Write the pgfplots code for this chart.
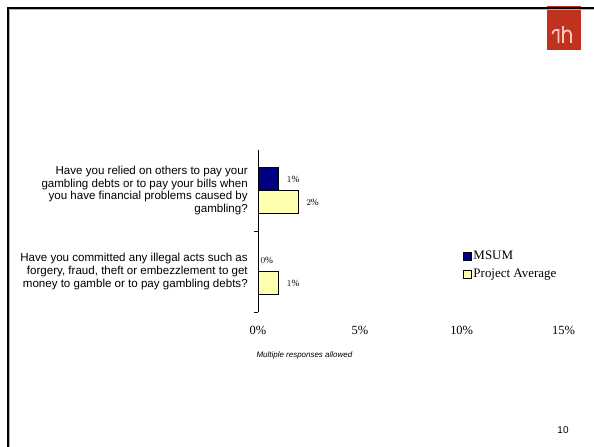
\documentclass[border=0pt]{standalone}
\usepackage{fontspec}
\setmainfont{Liberation Serif}
\setsansfont{Liberation Sans}
\usepackage{pgfplots}
\usepackage{pgfplotstable}
\pgfplotsset{compat=1.18}
\definecolor{msum}{HTML}{000080}
\definecolor{projavg}{HTML}{FFFFB0}
\definecolor{logored}{HTML}{C0311F}
\definecolor{logoink}{HTML}{F6C9C0}

\pgfplotstableread{
cat val off
0 1 5
1 0 -1
}\msumdata
\pgfplotstableread{
cat val off
0 2 4
1 1 5
}\projdata

\begin{document}
\begin{tikzpicture}
\begin{scope}[x=1bp,y=1bp]
\useasboundingbox (0,0) rectangle (594,447);
% logo
\fill[logored] (547,397) rectangle (581,441);
\draw[logoink,line width=1.8bp] (552.5,413) .. controls (553,416.5) and (555,417.5) .. (558.5,417) -- (558.5,404);
\draw[logoink,line width=1.8bp] (563,421) -- (563,404);
\draw[logoink,line width=1.8bp] (563,413) .. controls (564,417.5) and (570.5,418) .. (571,413) -- (571,404);
% slide frame
\draw[gray!60,line width=1bp] (9.8,0) -- (9.8,437) -- (594,437);
\draw[black,line width=2bp] (8,0) -- (8,438.5) -- (594,438.5);
\node[anchor=west, font=\sffamily\itshape\fontsize{8}{9}\selectfont] at (253,92) {Multiple responses allowed};
\node[font=\sffamily\fontsize{10}{12}\selectfont] at (563,17) {10};
\end{scope}

\begin{axis}[
  at={(258bp,297bp)}, anchor=north west,
  scale only axis, width=305.5bp, height=162bp,
  xbar, bar width=23bp,
  xmin=0, xmax=15,
  ymin=-0.5, ymax=1.5, y dir=reverse,
  axis y line*=left, axis x line*=bottom,
  x axis line style={draw=none},
  xtick={0,5,10,15}, xticklabels={0\%,5\%,10\%,15\%},
  xtick style={draw=none},
  xticklabel style={font=\fontsize{12.5}{14}\selectfont, yshift=-11bp},
  ytick={-0.5,0.5,1.5},
  y tick label as interval,
  yticklabels={{Have you relied on others to pay your\\gambling debts or to pay your bills when\\you have financial problems caused by\\gambling?},
               {Have you committed any illegal acts such as\\forgery, fraud, theft or embezzlement to get\\money to gamble or to pay gambling debts?}},
  yticklabel style={font=\sffamily\fontsize{11.6}{13}\selectfont, align=right, xshift=-2.5bp},
  ytick style={draw=none},
  extra y ticks={0.5,1.5},
  extra y tick labels={},
  extra y tick style={y tick label as interval=false, ytick style={draw=black, line width=0.6bp}, tick align=outside, major tick length=4bp},
  axis line style={black, line width=0.8bp},
  point meta=x,
  nodes near coords={\pgfmathprintnumber{\pgfplotspointmeta}\%},
  visualization depends on={\thisrow{off} \as \off},
  every node near coord/.append style={font=\fontsize{9.5}{11}\selectfont, xshift=\off bp, black},
  legend style={draw=none, fill=none, at={(0.67,0.39)}, anchor=north west,
    font=\fontsize{13}{15}\selectfont, row sep=4bp, inner sep=0pt},
  legend cell align=left,
  legend image code/.code={\draw[#1,line width=0.6bp] (0bp,-4bp) rectangle (8bp,4bp);},
  clip=false,
]
\addplot[fill=msum, draw=black, line width=0.6bp, bar shift=11.5bp] table[x=val,y=cat] {\msumdata};
\addplot[fill=projavg, draw=black, line width=0.6bp, bar shift=-11.5bp] table[x=val,y=cat] {\projdata};
\legend{MSUM, Project Average}
\end{axis}
\end{tikzpicture}
\end{document}
